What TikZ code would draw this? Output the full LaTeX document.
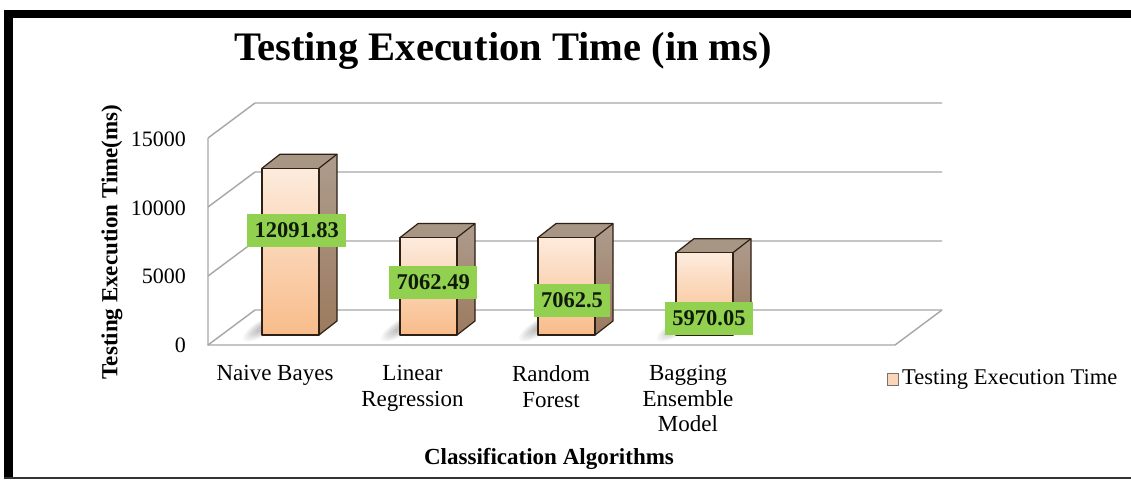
\documentclass[tikz,border=0pt]{standalone}
\usepackage{fontspec}
\setmainfont{Liberation Serif}
\definecolor{gridgray}{HTML}{A6A6A6}
\definecolor{peachtop}{HTML}{FDEBDD}
\definecolor{peachbot}{HTML}{F8BC8A}
\definecolor{sidetop}{HTML}{AE9C8E}
\definecolor{sidebot}{HTML}{9C7A5E}
\definecolor{topface}{HTML}{A89684}
\definecolor{edgebrown}{HTML}{2E2015}
\definecolor{labelgreen}{HTML}{92D050}
\definecolor{labeltext}{HTML}{101A0A}
\definecolor{legendfill}{HTML}{FBD5B5}
\begin{document}
\begin{tikzpicture}[x=1pt,y=-1pt,
  gridline/.style={draw=gridgray, line width=1.4pt},
  baredge/.style={draw=edgebrown, line width=1.2pt, line join=round},
  ticklabel/.style={font=\fontsize{22}{24}\selectfont, anchor=east, inner sep=0pt},
  catlabel/.style={font=\fontsize{23}{25.5}\selectfont, align=center, anchor=north, inner sep=0pt},
  axistitle/.style={font=\bfseries\fontsize{23}{25}\selectfont, inner sep=0pt},
  valuelabel/.style={fill=labelgreen, text=labeltext, font=\bfseries\fontsize{22.5}{24}\selectfont,
    inner xsep=7.5pt, inner ysep=0pt, minimum height=33pt}]
\useasboundingbox (0,0) rectangle (1131,479);
\fill[white] (0,0) rectangle (1131,479);

% frame
\fill[black] (4,10) rectangle (1131,18);
\fill[black] (4,10) rectangle (13,479);
\draw[black!80, line width=2pt] (4,477.5) -- (1131,477.5);

% title
\node[font=\bfseries\fontsize{40.5}{44}\selectfont, inner sep=0pt] (title) at (503,51) {Testing Execution Time (in ms)};

% walls and gridlines
\foreach \gy in {103,172,241,310}{
  \draw[gridline] (208,\gy+35) -- (255,\gy) -- (942,\gy);
}
\draw[gridline] (208,138) -- (208,345) -- (895,345) -- (942,310);

% tick labels
\node[ticklabel] (t15) at (186,139) {15000};
\node[ticklabel] (t10) at (186,208) {10000};
\node[ticklabel] (t5)  at (186,276) {5000};
\node[ticklabel] (t0)  at (186,345) {0};

% bars
\foreach \xl/\val/\nm in {262/12091.83/nb, 400/7062.49/lr, 538/7062.5/rf, 676/5970.05/be}{
  \pgfmathsetmacro\yt{335-\val*0.0138}
  \pgfmathsetmacro\xr{\xl+57}
  % soft shadow at the foot of the bar
  \foreach \k in {1,...,7}{
    \fill[black, opacity=0.035, rotate around={32:(\xl+2,327)}]
      (\xl+2,327) ellipse [x radius=6+\k*2.6, y radius=1.5+\k*0.9];
  }
  % front face
  \shade[top color=peachtop, bottom color=peachbot] (\xl,\yt) rectangle (\xr,335);
  % side face
  \shade[top color=sidetop, bottom color=sidebot] (\xr,\yt) -- (\xr+18,\yt-14) -- (\xr+18,321) -- (\xr,335) -- cycle;
  % top face
  \fill[topface] (\xl,\yt) -- (\xl+18,\yt-14) -- (\xr+18,\yt-14) -- (\xr,\yt) -- cycle;
  \draw[baredge] (\xl,\yt) rectangle (\xr,335);
  \draw[baredge] (\xr,335) -- (\xr+18,321) -- (\xr+18,\yt-14) -- (\xl+18,\yt-14) -- (\xl,\yt);
  \draw[baredge] (\xr,\yt) -- (\xr+18,\yt-14);
}

% value labels
\node[valuelabel] (vnb) at (296.7,230) {12091.83};
\node[valuelabel] (vlr) at (433.3,282.5) {7062.49};
\node[valuelabel] (vrf) at (572,300) {7062.5};
\node[valuelabel] (vbe) at (709,318.3) {5970.05};

% category labels
\node[catlabel] (cnb) at (275,365.5) {Naive Bayes};
\node[catlabel] (clr) at (412.5,365.5) {Linear\\Regression};
\node[catlabel] (crf) at (551,365.5) {Random\\Forest};
\node[catlabel] (cbe) at (688,365.5) {Bagging\\Ensemble\\Model};

% axis titles
\node[axistitle, rotate=90] (ytitle) at (112,242) {Testing Execution Time(ms)};
\node[axistitle] (xtitle) at (549,459) {Classification Algorithms};

% legend
\draw[draw=black!55, fill=legendfill, line width=0.8pt] (887,373) rectangle (898,385);
\node[font=\fontsize{22.5}{24}\selectfont, anchor=west, inner sep=0pt] (legend) at (902,379.5) {Testing Execution Time};
\end{tikzpicture}
\end{document}
